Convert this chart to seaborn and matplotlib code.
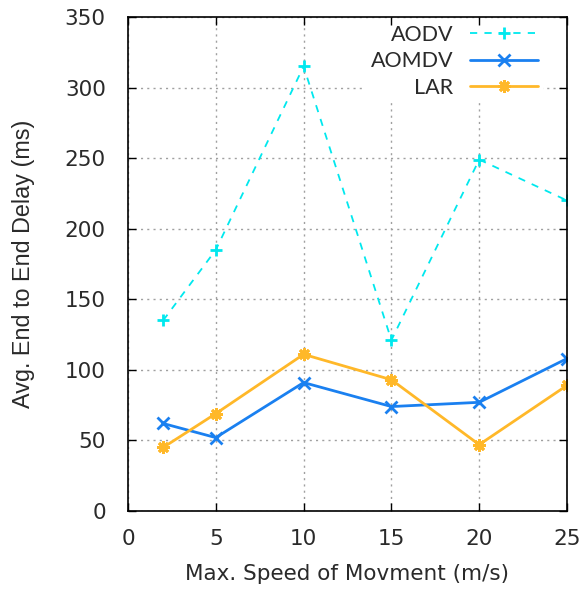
import matplotlib
matplotlib.use("Agg")
import matplotlib.pyplot as plt
import seaborn as sns
import pandas as pd

speeds = [2, 5, 10, 15, 20, 25]
aodv = [135, 185, 315, 121, 249, 220]
aomdv = [62, 52, 91, 74, 77, 108]
lar = [45, 69, 111, 93, 47, 89]
series_names = ["AODV", "AOMDV", "LAR"]

sns.set_theme(style="white")
plt.rcParams['font.family'] = ['DejaVu Sans']

W, H = 579, 590
fig = plt.figure(figsize=(W / 100, H / 100), dpi=100)
rect = [128 / W, 1 - 511 / H, (567 - 128) / W, (511 - 17) / H]
ax = fig.add_axes(rect)

styles = {
    "AODV": dict(color="#00e8ee", linestyle=(0, (4, 4)), marker="+", markersize=9, mew=2, lw=1.3),
    "AOMDV": dict(color="#1a80f0", linestyle="-", marker="x", markersize=8, mew=2, lw=2),
    "LAR": dict(color="#ffb829", linestyle="-", marker=(8, 2, 0), markersize=9, mew=2, lw=2),
}
data = {"AODV": aodv, "AOMDV": aomdv, "LAR": lar}
for name in series_names:
    df = pd.DataFrame({"speed": speeds, "delay": data[name]})
    st = styles[name]
    sns.lineplot(data=df, x="speed", y="delay", ax=ax, label=name,
                 color=st["color"], linestyle=st["linestyle"], marker=st["marker"],
                 markersize=st["markersize"], markeredgewidth=st["mew"],
                 markeredgecolor=st["color"], linewidth=st["lw"])

ax.set_xlim(0, 25)
ax.set_ylim(0, 350)
ax.set_xticks([0, 5, 10, 15, 20, 25])
ax.set_yticks(range(0, 351, 50))
ax.grid(True, color="#a0a0a0", linestyle=(0, (1.5, 3)), linewidth=1)
ax.tick_params(length=0, labelsize=15.5, labelcolor="#2a2a2a")
ax.tick_params(axis="y", pad=16)
ax.tick_params(axis="x", pad=13)
for sp in ax.spines.values():
    sp.set_visible(False)
ax.set_xlabel("Max. Speed of Movment (m/s)", fontsize=15.5, color="#2a2a2a", va="center")
ax.set_ylabel("Avg. End to End Delay (ms)", fontsize=16.8, color="#2a2a2a", va="center",
              family=["Liberation Sans", "DejaVu Sans"])
ax.xaxis.set_label_coords(347 / W, 1 - 574 / H, transform=fig.transFigure)
ax.yaxis.set_label_coords(24 / W, 1 - 264 / H, transform=fig.transFigure)

fs = 15.5
fpx = fs * 100 / 72
leg = ax.legend(loc="upper right", markerfirst=False, frameon=True,
                prop={"family": ["Lato", "DejaVu Sans"], "size": fs},
                handlelength=68 / fpx, handletextpad=17 / fpx, borderpad=0.25,
                labelspacing=0.3,
                bbox_to_anchor=((538 + 0.25 * fpx) / W, 1 - 19.5 / H),
                bbox_transform=fig.transFigure, borderaxespad=0)
leg.get_frame().set_facecolor("white")
leg.get_frame().set_edgecolor("none")
leg.get_frame().set_alpha(1)
for t in leg.get_texts():
    t.set_ha("right")
    t.set_color("#2a2a2a")
leg._legend_box.align = "right"

# Border and ticks drawn on top of everything (gnuplot style)
ax2 = fig.add_axes(rect, facecolor="none", sharex=ax, sharey=ax)
ax2.grid(False)
ax2.tick_params(direction="in", length=6, width=1, top=True, right=True,
                bottom=True, left=True, colors="black",
                labelbottom=False, labelleft=False)
for sp in ax2.spines.values():
    sp.set_visible(True)
    sp.set_color("black")
    sp.set_linewidth(1.2)

fig.savefig("out.png", dpi=100)
